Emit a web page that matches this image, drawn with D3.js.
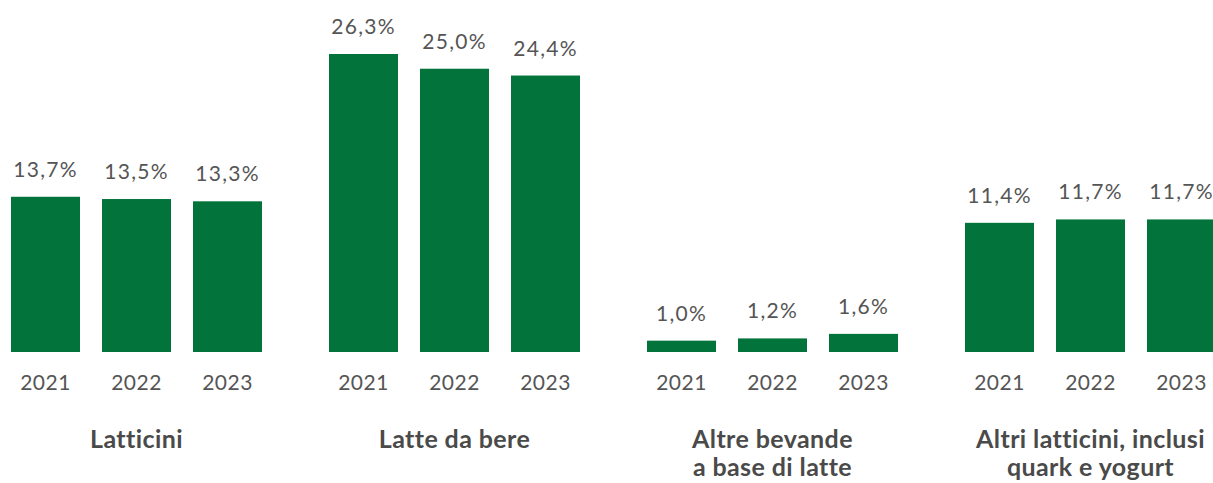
<!DOCTYPE html>
<html><head><meta charset="utf-8">
<script src="https://cdn.jsdelivr.net/npm/d3@7"></script>
<style>body{margin:0;background:#fff}</style>
</head><body>
<svg id="c" width="1213" height="483"></svg>
<script>
const categories = ["Latticini", "Latte da bere", "Altre bevande|a base di latte", "Altri latticini, inclusi|quark e yogurt"];
const years = ["2021", "2022", "2023"];
const values2021 = [13.7, 26.3, 1.0, 11.4];
const values2022 = [13.5, 25.0, 1.2, 11.7];
const values2023 = [13.3, 24.4, 1.6, 11.7];
const series = [values2021, values2022, values2023];

const svg = d3.select("#c");
const green = "#02733A";
const textCol = "#555555";

const outer = d3.scaleBand().domain(categories).range([11, 11 + 318 * 4]).paddingInner(0).paddingOuter(0);
const inner = d3.scaleBand().domain(years).range([0, 251]).paddingInner(22 / 91).paddingOuter(0);
const y = d3.scaleLinear().domain([0, 26.3]).range([352, 54]);
const fmt = v => d3.format(".1f")(v).replace(".", ",") + "%";

const groups = svg.selectAll("g.grp").data(categories).join("g")
  .attr("class", "grp")
  .attr("transform", d => `translate(${outer(d)},0)`);

groups.each(function(cat, ci) {
  const g = d3.select(this);
  const data = years.map((yr, yi) => ({yr, v: series[yi][ci]}));
  g.selectAll("rect").data(data).join("rect")
    .attr("x", d => inner(d.yr)).attr("width", inner.bandwidth())
    .attr("y", d => y(d.v)).attr("height", d => y(0) - y(d.v))
    .attr("fill", green);
  g.selectAll("text.val").data(data).join("text").attr("class", "val")
    .attr("x", d => inner(d.yr) + inner.bandwidth() / 2)
    .attr("y", d => y(d.v) - 20)
    .attr("text-anchor", "middle")
    .attr("font-family", "Lato, sans-serif").attr("font-size", 21).attr("font-weight", 400)
    .attr("letter-spacing", 1.3)
    .attr("fill", textCol).text(d => fmt(d.v));
  const ax = g.append("g").attr("transform", `translate(0,${y(0)})`)
    .call(d3.axisBottom(inner).tickSize(0).tickPadding(0));
  ax.select(".domain").remove();
  ax.selectAll("text").attr("dy", null).attr("y", 38)
    .attr("font-family", "Lato, sans-serif").attr("font-size", 21).attr("font-weight", 400)
    .attr("letter-spacing", 0.5)
    .attr("fill", textCol);
  const lines = cat.split("|");
  g.append("text").attr("x", 251 / 2).attr("y", 448).attr("text-anchor", "middle")
    .attr("font-family", "Lato, sans-serif").attr("font-size", 25).attr("font-weight", 700)
    .attr("letter-spacing", 0.4)
    .attr("fill", "#4a4a4a")
    .selectAll("tspan").data(lines).join("tspan")
    .attr("x", 251 / 2).attr("dy", (d, i) => i === 0 ? 0 : 28).text(d => d);
});
</script>
</body></html>
